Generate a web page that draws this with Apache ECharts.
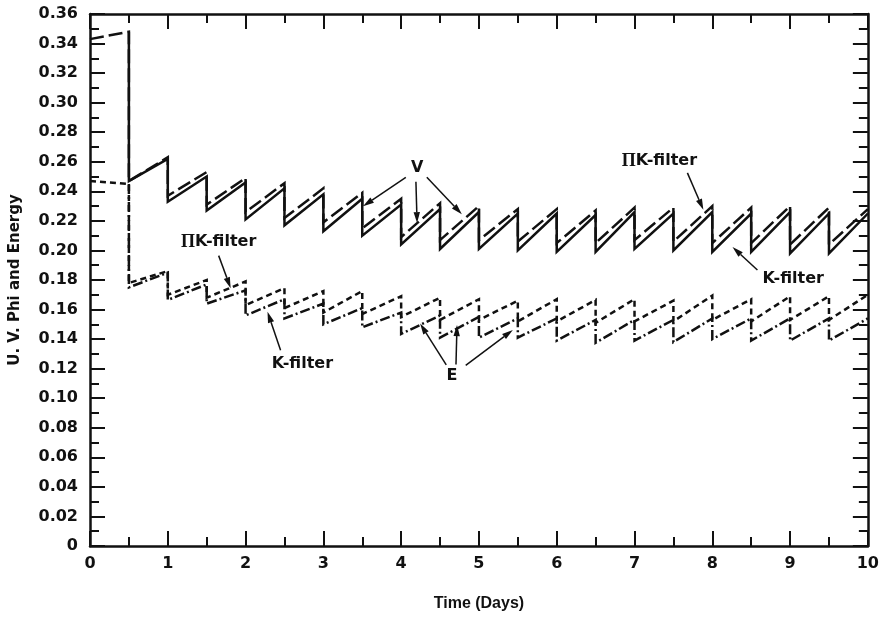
<!DOCTYPE html>
<html>
<head>
<meta charset="utf-8">
<title>U. V. Phi and Energy</title>
<script src="https://cdn.jsdelivr.net/npm/echarts@6/dist/echarts.min.js"></script>
<style>
  html, body { margin: 0; padding: 0; background: #ffffff; }
  #chart { width: 882px; height: 617px; }
</style>
</head>
<body>
<div id="chart"></div>
<script>
// Time axis (days) and value axis tick labels
const xTickLabels = ['0', '1', '2', '3', '4', '5', '6', '7', '8', '9', '10'];
const yTickLabels = ['0', '0.02', '0.04', '0.06', '0.08', '0.10', '0.12', '0.14', '0.16', '0.18',
                     '0.20', '0.22', '0.24', '0.26', '0.28', '0.30', '0.32', '0.34', '0.36'];

// V, K-filter: [day, value]; each dose drops the value at a half-day step
const vKFilter = [
  [0.5, 0.348], [0.5, 0.247], [1.0, 0.262], [1.0, 0.233], [1.5, 0.250], [1.5, 0.227],
  [2.0, 0.246], [2.0, 0.221], [2.5, 0.242], [2.5, 0.217], [3.0, 0.238], [3.0, 0.213],
  [3.5, 0.235], [3.5, 0.210], [4.0, 0.231], [4.0, 0.204], [4.5, 0.228], [4.5, 0.201],
  [5.0, 0.226], [5.0, 0.201], [5.5, 0.225], [5.5, 0.200], [6.0, 0.225], [6.0, 0.199],
  [6.5, 0.224], [6.5, 0.199], [7.0, 0.226], [7.0, 0.201], [7.5, 0.225], [7.5, 0.200],
  [8.0, 0.226], [8.0, 0.199], [8.5, 0.225], [8.5, 0.199], [9.0, 0.226], [9.0, 0.198],
  [9.5, 0.225], [9.5, 0.198], [10.0, 0.225]
];

// V, ΠK-filter
const vPiKFilter = [
  [0.0, 0.343], [0.5, 0.348], [0.5, 0.247], [1.0, 0.263], [1.0, 0.237], [1.5, 0.253],
  [1.5, 0.231], [2.0, 0.249], [2.0, 0.226], [2.5, 0.2455], [2.5, 0.222], [3.0, 0.242],
  [3.0, 0.219], [3.5, 0.239], [3.5, 0.215], [4.0, 0.235], [4.0, 0.209], [4.5, 0.232],
  [4.5, 0.207], [5.0, 0.230], [5.0, 0.207], [5.5, 0.228], [5.5, 0.206], [6.0, 0.228],
  [6.0, 0.205], [6.5, 0.227], [6.5, 0.205], [7.0, 0.229], [7.0, 0.207], [7.5, 0.229],
  [7.5, 0.206], [8.0, 0.230], [8.0, 0.205], [8.5, 0.229], [8.5, 0.205], [9.0, 0.230],
  [9.0, 0.204], [9.5, 0.229], [9.5, 0.204], [10.0, 0.228]
];

// E, K-filter
const eKFilter = [
  [0.5, 0.245], [0.5, 0.175], [1.0, 0.185], [1.0, 0.1665], [1.5, 0.177], [1.5, 0.164],
  [2.0, 0.173], [2.0, 0.156], [2.5, 0.167], [2.5, 0.154], [3.0, 0.164], [3.0, 0.150],
  [3.5, 0.161], [3.5, 0.148], [4.0, 0.158], [4.0, 0.1435], [4.5, 0.156], [4.5, 0.141],
  [5.0, 0.155], [5.0, 0.141], [5.5, 0.154], [5.5, 0.141], [6.0, 0.154], [6.0, 0.139],
  [6.5, 0.153], [6.5, 0.1375], [7.0, 0.153], [7.0, 0.139], [7.5, 0.153], [7.5, 0.138],
  [8.0, 0.154], [8.0, 0.140], [8.5, 0.154], [8.5, 0.139], [9.0, 0.154], [9.0, 0.139],
  [9.5, 0.154], [9.5, 0.139], [10.0, 0.154]
];

// E, ΠK-filter
const ePiKFilter = [
  [0.0, 0.247], [0.5, 0.245], [0.5, 0.178], [1.0, 0.186], [1.0, 0.170], [1.5, 0.180],
  [1.5, 0.168], [2.0, 0.179], [2.0, 0.163], [2.5, 0.1745], [2.5, 0.161], [3.0, 0.1725],
  [3.0, 0.158], [3.5, 0.1725], [3.5, 0.157], [4.0, 0.169], [4.0, 0.155], [4.5, 0.168],
  [4.5, 0.153], [5.0, 0.167], [5.0, 0.153], [5.5, 0.166], [5.5, 0.152], [6.0, 0.167],
  [6.0, 0.152], [6.5, 0.1665], [6.5, 0.151], [7.0, 0.167], [7.0, 0.152], [7.5, 0.166],
  [7.5, 0.152], [8.0, 0.1695], [8.0, 0.153], [8.5, 0.167], [8.5, 0.152], [9.0, 0.169],
  [9.0, 0.153], [9.5, 0.169], [9.5, 0.153], [10.0, 0.170]
];

// Callouts: label text, label anchor and arrows, all in data coordinates
const callouts = [
  { text: 'V', at: [4.205, 0.2562], arrows: [
      [[4.06, 0.2495], [3.51, 0.2299]],
      [[4.19, 0.2465], [4.205, 0.2185]],
      [[4.33, 0.2495], [4.78, 0.2245]] ] },
  { text: '{p|Π}K-filter', at: [7.32, 0.2603], arrows: [
      [[7.68, 0.2525], [7.885, 0.2275]] ] },
  { text: 'K-filter', at: [9.04, 0.1807], arrows: [
      [[8.58, 0.1868], [8.26, 0.2023]] ] },
  { text: '{p|Π}K-filter', at: [1.654, 0.2057], arrows: [
      [[1.654, 0.1965], [1.808, 0.1745]] ] },
  { text: 'K-filter', at: [2.73, 0.1234], arrows: [
      [[2.45, 0.1325], [2.282, 0.1585]] ] },
  { text: 'E', at: [4.654, 0.1153], arrows: [
      [[4.58, 0.1225], [4.244, 0.1505]],
      [[4.705, 0.1228], [4.718, 0.1495]],
      [[4.83, 0.1222], [5.436, 0.1462]] ] }
];

const FONT = '"DejaVu Sans", "Liberation Sans", sans-serif';
const INK = '#111111';

const frameLine = { show: true, onZero: false, lineStyle: { color: INK, width: 2.5 } };
const tickStyle = { color: INK, width: 2 };

function xAxisDef(position, showLabels) {
  return {
    type: 'value', position: position, min: 0, max: 10, interval: 1,
    axisLine: frameLine,
    axisTick: { show: true, inside: true, length: 15, lineStyle: tickStyle },
    minorTick: { show: true, splitNumber: 2, length: 9, lineStyle: tickStyle },
    splitLine: { show: false },
    axisLabel: {
      show: showLabels, margin: 10, color: INK, fontFamily: FONT, fontWeight: 'bold', fontSize: 16,
      formatter: v => xTickLabels[Math.round(v)]
    }
  };
}

function yAxisDef(position, showLabels) {
  return {
    type: 'value', position: position, min: 0, max: 0.36, interval: 0.02,
    axisLine: frameLine,
    axisTick: { show: true, inside: true, length: 15, lineStyle: tickStyle },
    minorTick: { show: true, splitNumber: 2, length: 9, lineStyle: tickStyle },
    splitLine: { show: false },
    axisLabel: {
      show: showLabels, margin: 12, color: INK, fontFamily: FONT, fontWeight: 'bold', fontSize: 16,
      formatter: v => yTickLabels[Math.round(v / 0.02)]
    }
  };
}

const xBottom = xAxisDef('bottom', true);
xBottom.name = 'Time (Days)';
xBottom.nameLocation = 'middle';
xBottom.nameGap = 50;
xBottom.nameTextStyle = { color: INK, fontFamily: '"Liberation Sans", Arial, sans-serif', fontWeight: 'bold', fontSize: 16 };

const yLeft = yAxisDef('left', true);
yLeft.name = 'U. V. Phi and Energy';
yLeft.nameLocation = 'middle';
yLeft.nameGap = 67;
yLeft.nameTextStyle = { color: INK, fontFamily: FONT, fontWeight: 'bold', fontSize: 15 };

function curve(name, data, dash) {
  return {
    name: name, type: 'line', xAxisIndex: 0, yAxisIndex: 0,
    data: data, symbol: 'none', silent: true, clip: true,
    lineStyle: { color: INK, width: 2.5, type: dash, cap: 'butt', join: 'miter' }
  };
}

const chart = echarts.init(document.getElementById('chart'), null, { renderer: 'canvas' });
chart.setOption({
  animation: false,
  backgroundColor: '#ffffff',
  grid: { left: 89, right: 13, top: 14, bottom: 69 },
  xAxis: [xBottom, xAxisDef('top', false)],
  yAxis: [yLeft, yAxisDef('right', false)],
  series: [
    curve('V, K-filter', vKFilter, 'solid'),
    curve('V, ΠK-filter', vPiKFilter, [14, 5]),
    curve('E, K-filter', eKFilter, [10, 3, 2, 3]),
    curve('E, ΠK-filter', ePiKFilter, [6, 4])
  ]
});

// Callout texts and arrows, placed through the grid's coordinate system
const toPx = p => chart.convertToPixel({ gridIndex: 0 }, p);
const graphics = [];
callouts.forEach(c => {
  const at = toPx(c.at);
  graphics.push({
    type: 'text', x: at[0], y: at[1], silent: true,
    style: {
      text: c.text, fill: INK, fontFamily: FONT, fontWeight: 'bold', fontSize: 16,
      align: 'center', verticalAlign: 'middle',
      rich: { p: { fontFamily: '"Liberation Serif", "DejaVu Serif", serif', fontWeight: 'bold', fontSize: 18, fill: INK } }
    }
  });
  c.arrows.forEach(a => {
    const s = toPx(a[0]);
    const e = toPx(a[1]);
    const dx = e[0] - s[0], dy = e[1] - s[1];
    const len = Math.hypot(dx, dy);
    const ux = dx / len, uy = dy / len;
    const headLen = 11, headHalf = 3.2;
    const bx = e[0] - ux * headLen, by = e[1] - uy * headLen;
    graphics.push({
      type: 'line', silent: true,
      shape: { x1: s[0], y1: s[1], x2: bx, y2: by },
      style: { stroke: INK, lineWidth: 1.5 }
    });
    graphics.push({
      type: 'polygon', silent: true,
      shape: { points: [[e[0], e[1]], [bx - uy * headHalf, by + ux * headHalf], [bx + uy * headHalf, by - ux * headHalf]] },
      style: { fill: INK }
    });
  });
});
chart.setOption({ graphic: graphics });
</script>
</body>
</html>
